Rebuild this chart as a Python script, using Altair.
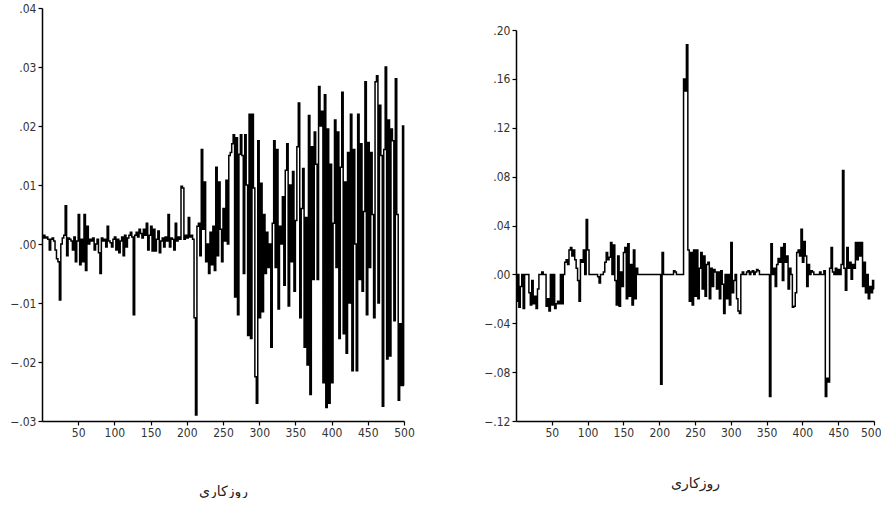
import altair as alt
import pandas as pd

# ---- data (one value every second working day) ----
left_vals = [
    0.001, 0.0015, 0.001, 0.0012, 0.0008, -0.001, 0.0008, 0.001, 0.0005, -0.001, -0.0025, -0.003,
    -0.0095, 0.0, 0.001,
    0.0015, 0.0065, -0.002, 0.001, 0.0008,
    0.0005, -0.001, 0.0012, -0.003, 0.0005,
    0.005, -0.0035, 0.0008, -0.003, 0.005,
    -0.0045, 0.003, 0.0, 0.0008, 0.0005,
    0.001, -0.001, 0.0, 0.0008, -0.0015,
    -0.005, 0.001, 0.0005, 0.0008, -0.0005,
    0.003, 0.0005, 0.0002, -0.0005, 0.0008,
    0.0012, -0.001, 0.0008, -0.0015, 0.0005,
    0.0012, -0.002, 0.0015, -0.0005, 0.001,
    0.0015, 0.002, 0.0012, -0.012, 0.0015,
    0.002, 0.0012, 0.0025, 0.0018, 0.001,
    0.0025, 0.0015, 0.0035, -0.001, 0.0015,
    0.003, -0.0012, 0.0025, -0.0012, 0.0008,
    0.0022, -0.0015, 0.0005, 0.001, -0.0005,
    0.0012, 0.0005, 0.005, -0.0005, 0.001,
    0.0008, -0.001, 0.0035, 0.0005, 0.0012,
    0.0008, 0.0098, 0.0095, 0.0008, 0.0015,
    0.001, 0.0045, 0.0012, 0.0015, 0.0008,
    -0.0125, -0.029, 0.003, 0.0035, -0.002,
    0.016, 0.0025, 0.0105, -0.003, 0.0,
    -0.005, 0.002, -0.0035, 0.003, -0.0045,
    0.013, -0.002, 0.0105, 0.0025, -0.003,
    0.006, 0.0005, 0.0108, 0.0, 0.015,
    0.0155, 0.017, 0.0185, -0.009, 0.018,
    -0.012, 0.0152, 0.0185, 0.015, -0.005,
    0.0185, 0.01, -0.0155, 0.022, -0.016,
    0.022, 0.0095, -0.0225, -0.027, 0.0175,
    -0.0125, 0.0103, -0.0115, 0.005, -0.005,
    0.002, -0.004, 0.0, -0.0175, 0.0035,
    0.0175, -0.004, 0.016, -0.011, 0.003,
    0.0, 0.008, -0.007, 0.0125, 0.017,
    -0.0105, 0.01, -0.003, 0.0123, -0.008,
    0.004, 0.0165, 0.0239, -0.0125, 0.006,
    0.0128, -0.0175, 0.0045, -0.0205, 0.0218,
    -0.0255, 0.0165, -0.006, 0.019, 0.0135,
    -0.006, 0.0267, 0.02, 0.0225, -0.0235,
    0.0253, -0.0277, 0.0195, -0.027, 0.0135,
    -0.0235, 0.0035, 0.021, -0.004, 0.019,
    -0.016, 0.013, 0.0257, -0.0152, 0.0105,
    -0.0185, 0.0155, -0.01, 0.022, -0.0215,
    0.016, 0.0, -0.0215, 0.022, -0.006,
    0.017, -0.008, 0.0055, 0.0275, -0.012,
    0.0172, -0.004, 0.0155, 0.005, -0.0125,
    0.0275, 0.0285, -0.01, 0.0235, 0.015,
    -0.0275, 0.016, 0.030, -0.0195, 0.021,
    -0.019, 0.0195, 0.0175, -0.013, 0.028,
    0.005, -0.0265, -0.0135, -0.024, 0.020,
    -0.024,
]

right_vals = [
    -0.022, 0.0, -0.027, -0.01, 0.0,
    -0.028, 0.0, 0.0, 0.0, -0.015,
    -0.025, -0.005, -0.024, -0.018, -0.028,
    -0.012, 0.0, 0.0, 0.002, 0.0,
    0.0, -0.026, -0.02, -0.03, 0.0,
    -0.025, 0.0, -0.028, -0.024, -0.022,
    -0.024, 0.0, -0.024, 0.0, 0.01,
    0.012, 0.008, 0.02, 0.022, 0.015,
    0.02, 0.012, 0.005, -0.005, -0.022,
    0.012, 0.01, 0.02, 0.0, 0.045,
    0.02, 0.0, 0.0, 0.0, 0.0,
    0.0, 0.0, -0.002, -0.007, 0.0,
    0.0, 0.002, 0.01, 0.018, 0.012,
    0.014, 0.026, 0.0, 0.024, -0.005,
    -0.025, 0.015, -0.026, 0.002, -0.01,
    0.018, 0.022, -0.02, 0.025, -0.018,
    0.008, -0.025, 0.02, -0.02, 0.005,
    0.0, 0.0, 0.0, 0.0, 0.0,
    0.0, 0.0, 0.0, 0.0, 0.0,
    0.0, 0.0, 0.0, 0.0, 0.0,
    0.0, -0.09, 0.018, 0.0, 0.0,
    0.0, 0.0, 0.0, 0.0, 0.0,
    0.003, 0.002, 0.0, 0.0, 0.0,
    0.0, 0.0, 0.16, 0.15, 0.188,
    0.02, -0.022, 0.018, -0.025, 0.02,
    -0.018, 0.02, -0.02, 0.005, 0.018,
    -0.012, 0.015, -0.018, 0.008, 0.01,
    -0.02, 0.005, -0.01, 0.004, 0.002,
    -0.012, 0.002, -0.02, 0.003, -0.008,
    -0.032, 0.0, -0.02, 0.0, -0.025,
    0.026, -0.015, -0.005, 0.0, -0.02,
    -0.03, -0.032, 0.0, 0.002, 0.0,
    0.0, 0.002, 0.003, 0.0, 0.002,
    0.003, 0.0, 0.002, 0.004, 0.003,
    0.0, 0.0, 0.0, 0.0, 0.0,
    0.0, 0.0, -0.1, 0.025, 0.0,
    0.005, -0.01, 0.008, 0.013, 0.01,
    0.022, -0.005, 0.025, 0.01, 0.015,
    -0.012, 0.005, 0.0, -0.027, -0.026,
    -0.015, 0.018, 0.02, 0.015, 0.037,
    0.01, 0.027, 0.015, -0.01, 0.008,
    0.0, 0.003, 0.002, 0.0, 0.0,
    0.0, 0.0, 0.002, 0.0, 0.0,
    0.003, -0.1, -0.085, -0.088, 0.005,
    0.022, 0.002, 0.0, 0.005, 0.0,
    0.004, 0.0, 0.008, 0.085, 0.005,
    -0.013, 0.022, 0.005, 0.01, -0.004,
    0.008, 0.005, 0.026, 0.012, 0.026,
    0.015, 0.026, -0.01, 0.01, -0.015,
    0.0, -0.02, -0.01, -0.015, -0.005,
    -0.012,
]

x_ticks = [50, 100, 150, 200, 250, 300, 350, 400, 450, 500]
left_ticks = [-0.03, -0.02, -0.01, 0.0, 0.01, 0.02, 0.03, 0.04]
right_ticks = [-0.12, -0.08, -0.04, 0.0, 0.04, 0.08, 0.12, 0.16, 0.20]
x_title = "روزکاری"


def make_df(vals):
    days = [2 * i + 1 for i in range(len(vals) - 1)] + [500]
    return pd.DataFrame({"day": days, "v": vals})


LABEL_FONT = "Liberation Sans Narrow, DejaVu Sans Condensed, Liberation Sans, sans-serif"
label_expr = "replace(format(datum.value, '.2f'), '0.', '.')"


def panel(vals, domain, ticks, w, h, title_pad, flush):
    axis_kw = dict(values=x_ticks, title=x_title, titlePadding=title_pad,
                   titleFont="DejaVu Sans", titleFontSize=14, titleFontWeight="normal",
                   titleColor="#222", labelFlush=flush, grid=False)
    if flush:
        axis_kw["labelFlushOffset"] = 7
    x_axis = alt.Axis(**axis_kw)
    y_axis = alt.Axis(values=ticks, labelExpr=label_expr, title=None, grid=False)
    ch = alt.Chart(make_df(vals)).mark_line(
        color="black", strokeWidth=1.5, interpolate="step"
    ).encode(
        x=alt.X("day:Q", scale=alt.Scale(domain=[0, 500], nice=False, zero=False), axis=x_axis),
        y=alt.Y("v:Q", scale=alt.Scale(domain=domain, nice=False, zero=False), axis=y_axis),
    )
    return ch.properties(width=w, height=h)


left = panel(left_vals, [-0.03, 0.04], left_ticks, 362, 413, 46, False)
right = panel(right_vals, [-0.12, 0.20], right_ticks, 358, 391, 38, True)

spacer = alt.Chart(pd.DataFrame({"a": [0]})).mark_point(opacity=0).encode(
    x=alt.value(0), y=alt.value(0)
).properties(width=358, height=16)

right_col = alt.vconcat(spacer, right, spacing=0)

chart = alt.hconcat(left, right_col, spacing=68).properties(
    padding={"left": 9, "top": 2, "right": 0, "bottom": 0},
    background="white",
).configure_view(stroke=None).configure_axis(
    grid=False, domainColor="black", domainWidth=1.5, tickColor="black", tickWidth=1.2,
    tickSize=4, labelFont=LABEL_FONT, labelFontSize=12, labelColor="#333", labelPadding=2,
)

chart.save("out.html", embed_options={"renderer": "svg", "actions": False})
